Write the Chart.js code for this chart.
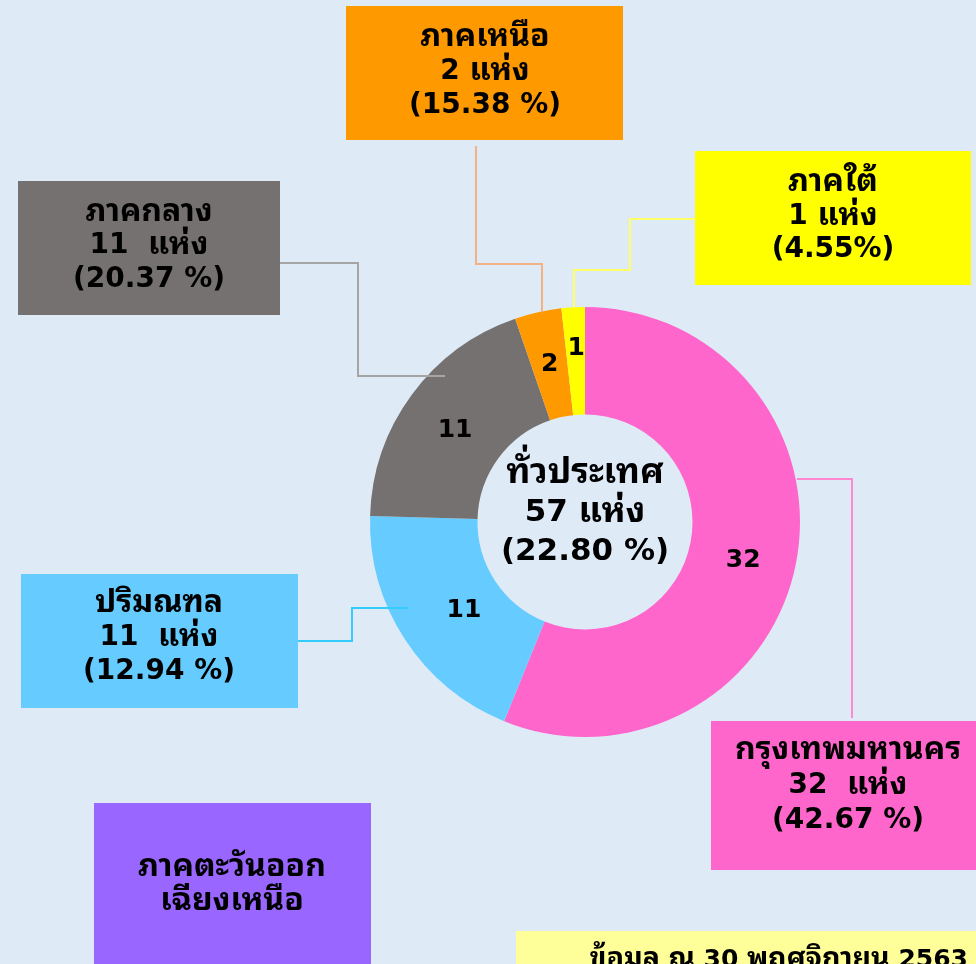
<!DOCTYPE html>
<html>
<head>
<meta charset="utf-8">
<script src="https://cdn.jsdelivr.net/npm/chart.js@4.4.1/dist/chart.umd.min.js"></script>
<style>
  html, body { margin: 0; padding: 0; background: #DEEBF7; overflow: hidden; }
  #wrap { width: 976px; height: 964px; position: relative; }
</style>
</head>
<body>
<div id="wrap"><canvas id="c" width="976" height="964"></canvas></div>
<script>
// ---- data ----
const regions = ['กรุงเทพมหานคร', 'ปริมณฑล', 'ภาคกลาง', 'ภาคเหนือ', 'ภาคใต้'];
const counts = [32, 11, 11, 2, 1];
const countLabels = ['32  แห่ง', '11  แห่ง', '11  แห่ง', '2 แห่ง', '1 แห่ง'];
const percentLabels = ['(42.67 %)', '(12.94 %)', '(20.37 %)', '(15.38 %)', '(4.55%)'];
const colors = ['#FF66CC', '#66CCFF', '#767171', '#FF9900', '#FFFF00'];
const lineColors = ['#FF88D0', '#33CCFF', '#A5A5A5', '#F4B183', '#FFFF66'];
const centerLines = ['ทั่วประเทศ', '57 แห่ง', '(22.80 %)'];
const extraRegion = ['ภาคตะวันออก', 'เฉียงเหนือ'];
const footnote = 'ข้อมูล ณ 30 พฤศจิกายน 2563';

const FONT = "'DejaVu Sans', 'Noto Sans Thai Looped', 'Noto Sans Thai', Tahoma, sans-serif";
const THAI_SCALE = 1.14;
const BG = '#DEEBF7';

// ---- layout of callout boxes (x, y, w, h) ----
const boxes = [
  { x: 711, y: 721, w: 280, h: 149, cx: 848, ys: [751, 786, 821] },
  { x: 21,  y: 574, w: 277, h: 134, cx: 159, ys: [604, 638, 672] },
  { x: 18,  y: 181, w: 262, h: 134, cx: 149, ys: [213, 246, 280] },
  { x: 346, y: 6,   w: 277, h: 134, cx: 485, ys: [38, 72, 106] },
  { x: 695, y: 151, w: 276, h: 134, cx: 833, ys: [183, 217, 250] }
];
const connectors = [
  [[797, 479], [852, 479], [852, 718]],
  [[298, 641], [352, 641], [352, 608], [408, 608]],
  [[280, 263], [358, 263], [358, 376], [445, 376]],
  [[476, 146], [476, 264], [542, 264], [542, 312]],
  [[695, 219], [630, 219], [630, 270], [574, 270], [574, 308]]
];

// draw text with Thai runs slightly larger (to mimic Tahoma proportions)
function drawMixed(ctx, text, x, y, size, align) {
  const runs = text.match(/[\u0E00-\u0E7F]+|[^\u0E00-\u0E7F]+/g) || [];
  const parts = runs.map(r => {
    const thai = /[\u0E00-\u0E7F]/.test(r);
    const font = 'bold ' + (thai ? size * THAI_SCALE : size) + 'px ' + FONT;
    ctx.font = font;
    return { r, font, w: ctx.measureText(r).width };
  });
  const total = parts.reduce((s, p) => s + p.w, 0);
  let sx = align === 'right' ? x - total : (align === 'left' ? x : x - total / 2);
  ctx.textAlign = 'left';
  ctx.textBaseline = 'middle';
  parts.forEach(p => {
    ctx.font = p.font;
    ctx.fillText(p.r, sx, y);
    sx += p.w;
  });
}

const calloutPlugin = {
  id: 'callouts',
  beforeDraw(chart) {
    const ctx = chart.ctx;
    ctx.save();
    ctx.fillStyle = BG;
    ctx.fillRect(0, 0, chart.width, chart.height);
    ctx.restore();
  },
  afterDatasetsDraw(chart) {
    const ctx = chart.ctx;
    const meta = chart.getDatasetMeta(0);
    ctx.save();
    // connectors
    connectors.forEach((pts, i) => {
      ctx.strokeStyle = lineColors[i];
      ctx.lineWidth = 2;
      ctx.beginPath();
      pts.forEach((p, k) => k ? ctx.lineTo(p[0], p[1]) : ctx.moveTo(p[0], p[1]));
      ctx.stroke();
    });
    // value labels on arcs
    ctx.fillStyle = '#000';
    ctx.font = 'bold 25px ' + FONT;
    ctx.textAlign = 'center';
    ctx.textBaseline = 'middle';
    meta.data.forEach((arc, i) => {
      const p = arc.tooltipPosition();
      let dy = 0;
      if (i === 0) dy = 8;
      if (i === 4) dy = -12;
      if (i === 2) dy = 4;
      ctx.fillText(String(counts[i]), p.x + (i === 1 ? 14 : 0), p.y + dy);
    });
    // boxes
    boxes.forEach((b, i) => {
      ctx.fillStyle = colors[i];
      ctx.fillRect(b.x, b.y, b.w, b.h);
      ctx.fillStyle = '#000';
      const lines = [regions[i], countLabels[i], percentLabels[i]];
      lines.forEach((t, k) => drawMixed(ctx, t, b.cx, b.ys[k], 28, 'center'));
    });
    // extra (purple) box
    ctx.fillStyle = '#9966FF';
    ctx.fillRect(94, 803, 277, 170);
    ctx.fillStyle = '#000';
    drawMixed(ctx, extraRegion[0], 232, 868, 28, 'center');
    drawMixed(ctx, extraRegion[1], 232, 902, 28, 'center');
    // footnote
    ctx.fillStyle = '#FFFF99';
    ctx.fillRect(516, 931, 470, 40);
    ctx.fillStyle = '#000';
    drawMixed(ctx, footnote, 968, 960, 25, 'right');
    // center text
    const c = meta.data[0];
    const cy = [474, 513, 552];
    centerLines.forEach((t, k) => drawMixed(ctx, t, c.x, cy[k], 31, 'center'));
    ctx.restore();
  }
};

new Chart(document.getElementById('c'), {
  type: 'doughnut',
  data: {
    labels: regions,
    datasets: [{
      data: counts,
      backgroundColor: colors,
      borderWidth: 0,
      hoverOffset: 0
    }]
  },
  options: {
    responsive: false,
    animation: false,
    cutout: '50%',
    rotation: 0,
    layout: { padding: { left: 370, right: 176, top: 307, bottom: 227 } },
    plugins: {
      legend: { display: false },
      tooltip: { enabled: false }
    }
  },
  plugins: [calloutPlugin]
});
</script>
</body>
</html>
